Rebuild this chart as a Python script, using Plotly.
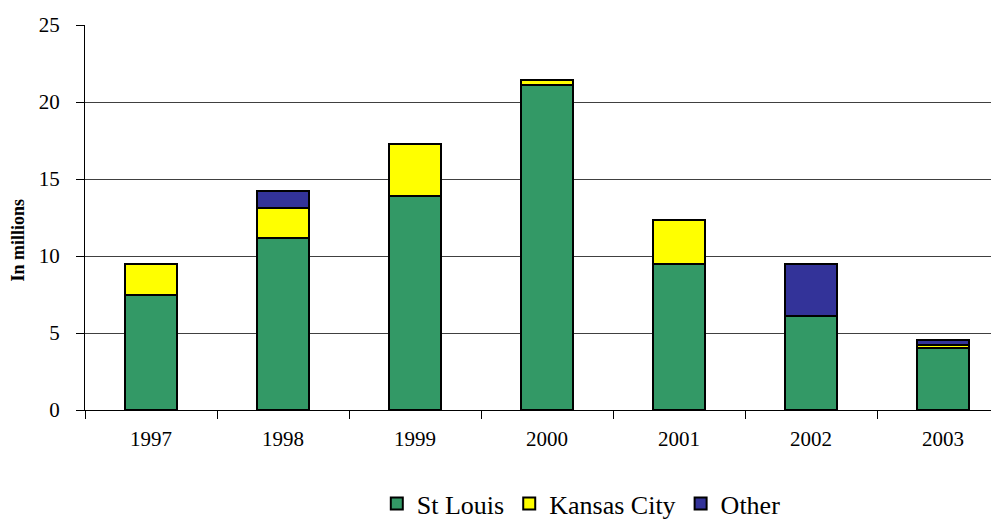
import plotly.graph_objects as go

years = ["1997", "1998", "1999", "2000", "2001", "2002", "2003"]
st_louis = [7.5, 11.15, 13.9, 21.1, 9.5, 6.1, 4.0]
kansas_city = [2.0, 1.95, 3.4, 0.35, 2.85, 0.0, 0.25]
other = [0.0, 1.1, 0.0, 0.0, 0.0, 3.4, 0.27]

serif = "Liberation Serif, Times New Roman, serif"

fig = go.Figure()
for name, vals, col in [("St Louis", st_louis, "#339966"),
                        ("Kansas City", kansas_city, "#FFFF00"),
                        ("Other", other, "#333399")]:
    fig.add_trace(go.Bar(x=years, y=vals, name=name, width=0.4,
                         marker=dict(color=col, line=dict(color="black", width=2))))

# page has an 8px body margin, so the figure is 991x513 and offset by 8
fig.update_layout(
    barmode="stack",
    width=991, height=513,
    margin=dict(l=77, r=0, t=17, b=111, autoexpand=False),
    plot_bgcolor="white", paper_bgcolor="white",
    font=dict(family=serif, color="black", size=21),
    showlegend=True,
    legend=dict(orientation="h", x=0.543, xanchor="center", y=-0.243, yanchor="middle",
                font=dict(family=serif, size=26), itemwidth=30, traceorder="normal"),
)
fig.update_xaxes(range=[-0.5, 6.424], showline=True, linecolor="black", linewidth=1,
                 ticks="outside", tickson="boundaries", ticklen=8, tickcolor="black",
                 ticklabelstandoff=10, showgrid=False)
fig.update_yaxes(range=[0, 25], dtick=5, showline=True, linecolor="black", linewidth=1,
                 ticks="outside", ticklen=8, tickcolor="black", showgrid=True,
                 gridcolor="#404040", gridwidth=1, zeroline=False, ticklabelstandoff=12)
fig.add_annotation(text="<b>In millions</b>", x=-0.0733, xref="paper", y=0.44, yref="paper",
                   showarrow=False, textangle=-90, font=dict(size=18), xanchor="center")
fig.write_html("out.html")
